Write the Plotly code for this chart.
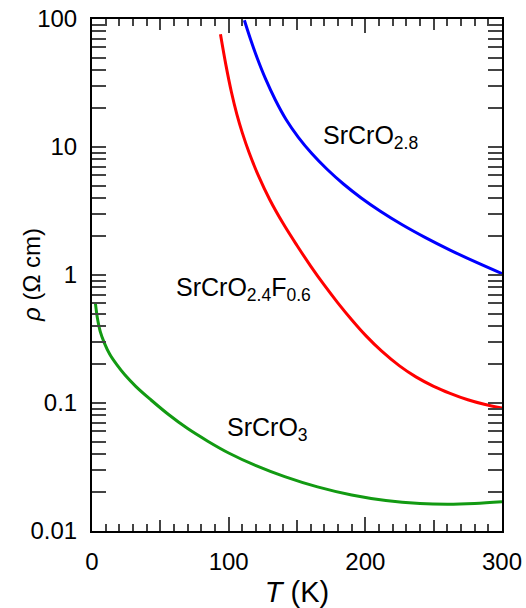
import math
import plotly.graph_objects as go

# SrCrO3 (green)
T_o3 = [2.5, 4, 6, 9, 13, 18, 24, 32, 43, 56, 70, 85, 100, 120, 141, 165, 190, 215, 240, 260, 280, 300]
R_o3 = [0.600, 0.457, 0.363, 0.295, 0.240, 0.200, 0.166, 0.135, 0.106, 0.0813, 0.0631, 0.0501,
        0.0407, 0.0324, 0.0266, 0.0221, 0.0191, 0.0173, 0.0164, 0.0162, 0.0164, 0.0169]

# SrCrO2.4F0.6 (red)
T_of = [94, 98, 102, 106, 110, 115, 122, 130, 140, 150, 160, 170, 180, 190, 200, 212, 225, 237, 250, 262, 275, 287, 300]
R_of = [75.9, 43.6, 26.9, 18.0, 12.9, 9.02, 5.89, 3.89, 2.51, 1.70, 1.175, 0.832, 0.603, 0.447, 0.339,
        0.254, 0.195, 0.160, 0.135, 0.119, 0.106, 0.0977, 0.0912]

# SrCrO2.8 (blue)
T_o28 = [111.5, 116, 121, 127, 134, 142, 151, 161, 172, 184, 197, 211, 227, 244, 262, 281, 300]
R_o28 = [97.7, 69.4, 49.1, 34.0, 23.5, 16.4, 11.9, 8.85, 6.70, 5.14, 4.00, 3.15, 2.47, 1.96, 1.566, 1.259, 1.025]

y_ticks = [0.01, 0.1, 1, 10, 100]
y_ticktext = ["0.01", "0.1", "1", "10", "100"]
y_minor = [m * d for d in [0.01, 0.1, 1, 10] for m in range(2, 10)]
x_ticks = [0, 100, 200, 300]
x_mid_ticks = [50, 150, 250]

labels = ["SrCrO<sub>2.8</sub>", "SrCrO<sub>2.4</sub>F<sub>0.6</sub>", "SrCrO<sub>3</sub>"]
label_T = [167.5, 60.0, 97.0]
label_rho = [11.9, 0.78, 0.063]

FONT = "Liberation Sans, Arial, sans-serif"

fig = go.Figure()
for T, R, c in [(T_o3, R_o3, "#129a12"), (T_of, R_of, "#ff0000"), (T_o28, R_o28, "#0000ff")]:
    fig.add_trace(go.Scatter(x=T, y=R, mode="lines", line=dict(color=c, width=3, shape="spline", smoothing=1),
                             showlegend=False, hoverinfo="skip"))

fig.add_trace(go.Scatter(x=[None], y=[None], xaxis="x2", showlegend=False))

fig.update_layout(
    width=526, height=608,
    margin=dict(l=92, r=24, t=19, b=77),
    plot_bgcolor="white", paper_bgcolor="white",
    font=dict(family=FONT, size=24, color="black"),
    xaxis=dict(range=[0, 300], tickvals=x_ticks, ticks="inside", ticklen=14, tickwidth=2,
               showline=True, linewidth=2, linecolor="black", mirror="allticks",
               showgrid=False, zeroline=False, automargin=False,
               minor=dict(tickvals=list(range(10, 300, 10)), ticks="inside", ticklen=7, tickwidth=2, showgrid=False),
               title=dict(text="<i>T</i> (K)", standoff=10),
               ticklabelstandoff=8),
    xaxis2=dict(range=[0, 300], overlaying="x", side="bottom", tickvals=x_mid_ticks,
                ticks="inside", ticklen=11, tickwidth=2, mirror="allticks", automargin=False,
                showticklabels=False, showgrid=False, zeroline=False, showline=False),
    yaxis=dict(type="log", range=[-2, 2], tickvals=y_ticks, ticktext=y_ticktext,
               ticks="inside", ticklen=14, tickwidth=2,
               showline=True, linewidth=2, linecolor="black", mirror="allticks",
               showgrid=False, zeroline=False, automargin=False,
               minor=dict(tickvals=y_minor, ticks="inside", ticklen=7, tickwidth=2, showgrid=False),
               ticklabelstandoff=8),
)

# y-axis title as a rotated annotation (placed in paper coordinates)
fig.add_annotation(xref="paper", yref="paper", x=-0.149, y=0.5, text="<i>ρ</i> (Ω cm)",
                   textangle=-90, showarrow=False, xanchor="center", yanchor="middle",
                   font=dict(family=FONT, size=24, color="black"))

ann_font = dict(family=FONT, size=25, color="black")
for txt, tx, ry in zip(labels, label_T, label_rho):
    fig.add_annotation(x=tx, y=math.log10(ry), text=txt, showarrow=False,
                       xanchor="left", yanchor="middle", font=ann_font)

fig.write_html("out.html")
